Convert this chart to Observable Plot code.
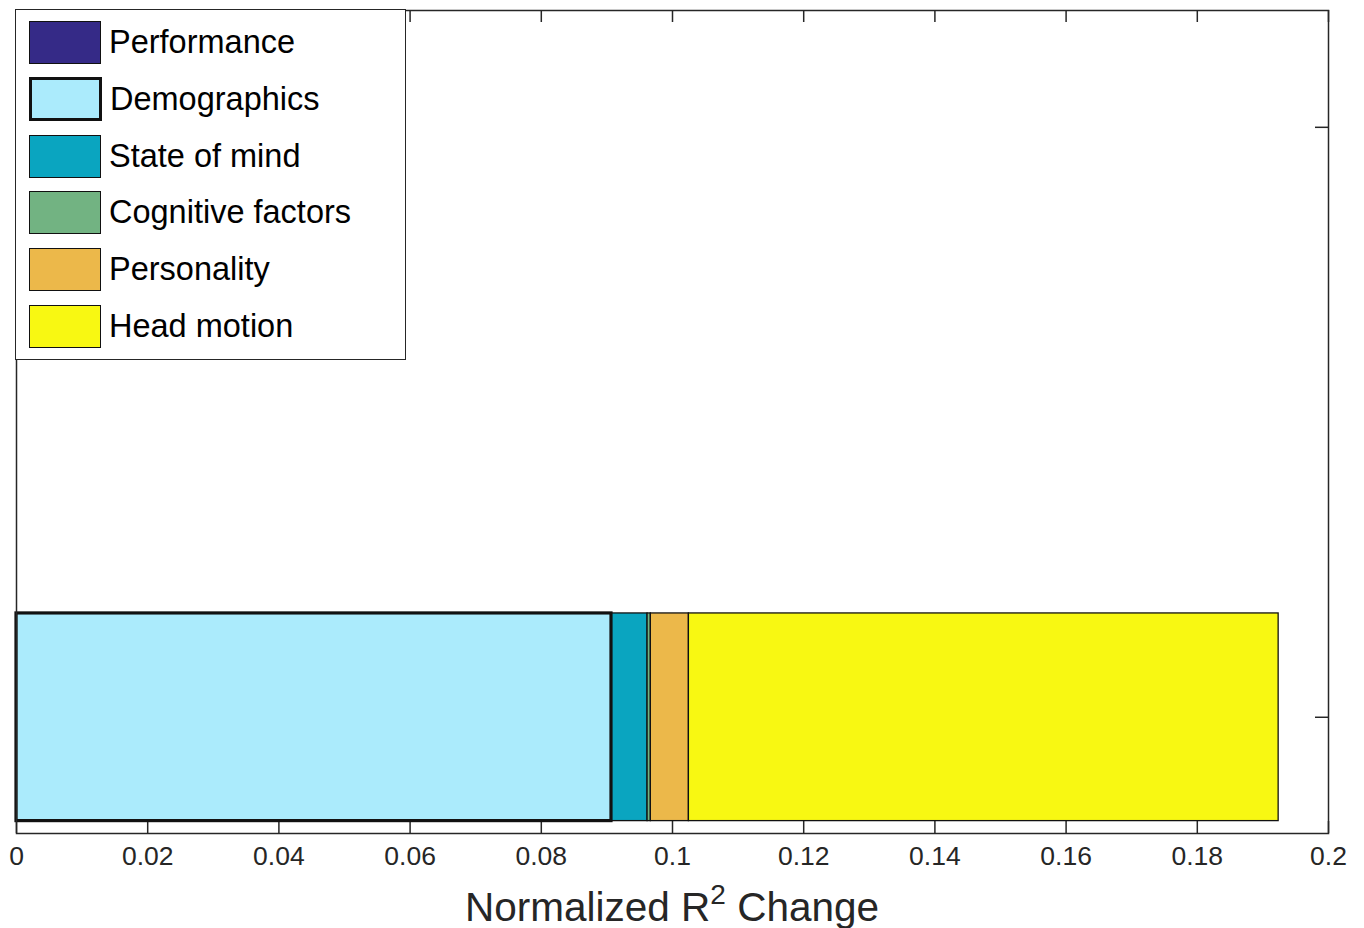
<!DOCTYPE html>
<html>
<head>
<meta charset="utf-8">
<script src="https://cdn.jsdelivr.net/npm/d3@7"></script>
<script src="https://cdn.jsdelivr.net/npm/@observablehq/plot@0.6"></script>
<style>
  html, body { margin: 0; padding: 0; background: #fff; }
  #wrap { position: relative; width: 1364px; height: 928px; font-family: "Liberation Sans", Arial, Helvetica, sans-serif; }
  #legend { position: absolute; left: 15px; top: 9px; width: 389px; height: 349px; border: 1.5px solid #262626; background: #fff; box-sizing: content-box; }
  .item { position: absolute; left: 13px; height: 43px; display: flex; align-items: center; }
  .sw { width: 70px; height: 41px; border: 1.5px solid #111; box-sizing: content-box; }
  .lab { margin-left: 8px; font-size: 32.5px; color: #000; white-space: nowrap; }
</style>
</head>
<body>
<div id="wrap"><div id="chart"></div><div id="legend"></div></div>
<script>
// ---- data ----
const categories = ["Performance", "Demographics", "State of mind", "Cognitive factors", "Personality", "Head motion"];
const values = [0.0, 0.0907, 0.0055, 0.0005, 0.0058, 0.0899];
const colors = ["#352a87", "#abebfc", "#0aa5c0", "#72b382", "#ecb84a", "#f8f812"];
const xTicks = [0, 0.02, 0.04, 0.06, 0.08, 0.1, 0.12, 0.14, 0.16, 0.18, 0.2];
const yTicks = [1, 2];
const barRow = 1;
const barHalf = 0.176;

const ends = d3.cumsum(values);
const data = categories.map((c, i) => ({category: c, x1: ends[i] - values[i], x2: ends[i]}));

const W = 1364, H = 928, mL = 16, mR = 36, mT = 10, mB = 95;
const iw = W - mL - mR, ih = H - mT - mB;
const tl = 12;
const fmt = d => String(+d.toFixed(2));

const chart = Plot.plot({
  width: W, height: H,
  marginLeft: mL, marginRight: mR, marginTop: mT, marginBottom: mB,
  style: {fontFamily: "'Liberation Sans', Arial, Helvetica, sans-serif", fontSize: "26.5px", color: "#262626", background: "#fff", overflow: "visible"},
  x: {domain: [0, 0.2], ticks: xTicks, tickFormat: fmt, tickSize: 0, tickPadding: 13, label: null},
  y: {domain: [0.803, 2.198], axis: null},
  color: {domain: categories, range: colors},
  marks: [
    Plot.tickX(xTicks, {x: d => d, insetTop: ih - tl, stroke: "#262626", strokeWidth: 1.5}),
    Plot.tickX(xTicks, {x: d => d, insetBottom: ih - tl, stroke: "#262626", strokeWidth: 1.5}),
    Plot.tickY(yTicks, {y: d => d, insetLeft: iw - tl - 1, stroke: "#262626", strokeWidth: 1.5}),
    Plot.tickY(yTicks, {y: d => d, insetRight: iw - tl - 1, stroke: "#262626", strokeWidth: 1.5}),
    Plot.rect(data.filter(d => d.x2 > d.x1), {x1: "x1", x2: "x2", y1: () => barRow - barHalf, y2: () => barRow + barHalf, fill: "category", stroke: "#111", strokeWidth: 1.3}),
    Plot.rect(data.filter(d => d.category === "Demographics"), {x1: "x1", x2: "x2", y1: () => barRow - barHalf, y2: () => barRow + barHalf, fill: "category", stroke: "#111", strokeWidth: 3.2}),
    Plot.frame({stroke: "#262626", strokeWidth: 1.5})
  ]
});

// x-axis label with superscript
const svg = d3.select(chart);
const t = svg.append("text")
  .attr("x", mL + iw / 2).attr("y", 921)
  .attr("text-anchor", "middle")
  .attr("font-size", 40.5).attr("fill", "#262626");
t.append("tspan").text("Normalized R");
t.append("tspan").attr("font-size", 28).attr("dy", -17).text("2");
t.append("tspan").attr("dy", 17).text(" Change");

document.getElementById("chart").appendChild(chart);

// legend
const leg = document.getElementById("legend");
categories.forEach((c, i) => {
  const it = document.createElement("div");
  it.className = "item";
  it.style.top = (11 + i * 56.8) + "px";
  const sw = document.createElement("div");
  sw.className = "sw";
  sw.style.background = colors[i];
  if (c === "Demographics") { sw.style.border = "3px solid #111"; sw.style.width = "67px"; sw.style.height = "38px"; }
  const lb = document.createElement("span");
  lb.className = "lab";
  lb.textContent = c;
  it.appendChild(sw); it.appendChild(lb);
  leg.appendChild(it);
});
</script>
</body>
</html>
